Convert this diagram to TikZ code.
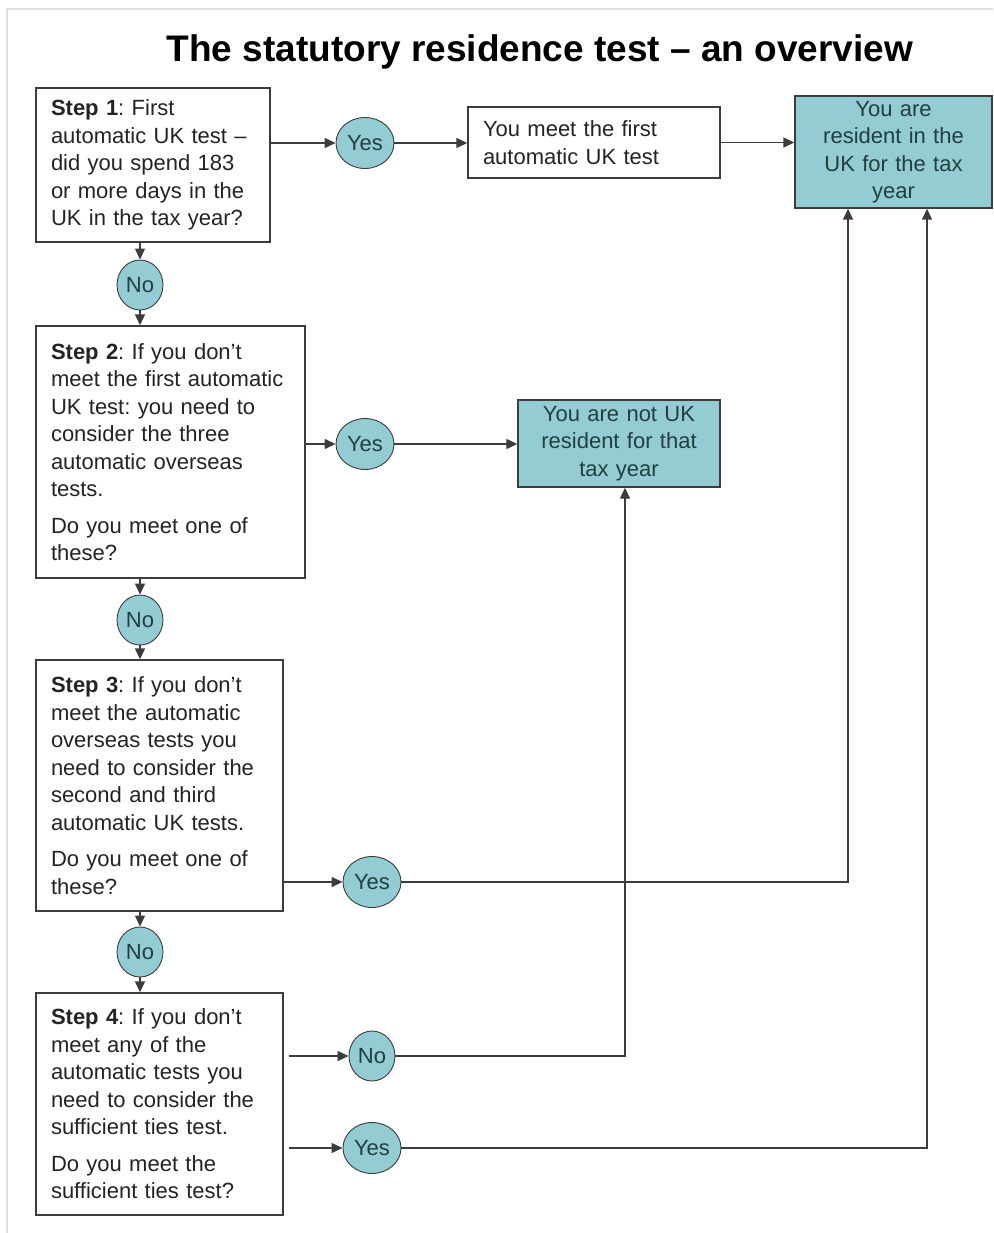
\documentclass[tikz,border=0pt]{standalone}
\usepackage{fontspec}
\setmainfont{Liberation Sans}
\frenchspacing
\usetikzlibrary{arrows.meta,shapes.geometric}
\definecolor{tealfill}{RGB}{147,205,211}
\definecolor{boxline}{RGB}{60,60,60}
\definecolor{boxtext}{RGB}{35,35,35}
\definecolor{tealtext}{RGB}{35,62,64}
\begin{document}
\begin{tikzpicture}[x=1pt,y=-1pt,
  every node/.style={font=\fontsize{22}{27.5}\selectfont},
  stepbox/.style={draw=boxline,line width=1.4pt,text=boxtext,align=left,inner xsep=15pt,inner ysep=0pt},
  endbox/.style={draw=boxline,line width=1.4pt,fill=tealfill,text=tealtext,align=center,inner sep=0pt},
  answer/.style={ellipse,draw=boxline,line width=0.9pt,fill=tealfill,text=tealtext,inner sep=0pt},
  yesans/.style={answer,minimum width=58pt,minimum height=51pt},
  noans/.style={answer,minimum width=46pt,minimum height=50pt},
  arr/.style={draw=boxline,line width=1.4pt,-{Triangle[length=11pt,width=10pt]}}]
\useasboundingbox (0,0) rectangle (993,1233);
% faint frame of the page
\draw[gray!25,line width=1.5pt] (7,1233) -- (7,9) -- (993,9);
\node[font=\bfseries\fontsize{37}{40}\selectfont,anchor=base] (title) at (540,62) {The statutory residence test -- an overview};
% step 1
\node[stepbox,text width=204pt,minimum height=154pt] (step1) at (153,165) {\textbf{Step 1}: First\\automatic UK test --\\did you spend 183\\or more days in the\\UK in the tax year?};
\node[yesans] (yes1) at (365,143) {Yes};
\node[stepbox,text width=222pt,minimum height=71pt] (meet) at (594,142.5) {You meet the first\\automatic UK test};
\node[endbox,text width=197pt,minimum height=112pt] (resident) at (893.5,152) {You are\\resident in the\\UK for the tax\\year};
\node[noans] (no1) at (140,285) {No};
% step 2
\node[stepbox,text width=239pt,minimum height=252pt] (step2) at (170.5,452) {\textbf{Step 2}: If you don't\\meet the first automatic\\UK test: you need to\\consider the three\\automatic overseas\\tests.\\[9pt]Do you meet one of\\these?};
\node[yesans] (yes2) at (365,444) {Yes};
\node[endbox,text width=202pt,minimum height=87pt] (notres) at (619,443.5) {You are not UK\\resident for that\\tax year};
\node[noans] (no2) at (140,620) {No};
% step 3
\node[stepbox,text width=217pt,minimum height=251pt] (step3) at (159.5,785.5) {\textbf{Step 3}: If you don't\\meet the automatic\\overseas tests you\\need to consider the\\second and third\\automatic UK tests.\\[9pt]Do you meet one of\\these?};
\node[yesans] (yes3) at (372,882) {Yes};
\node[noans] (no3) at (140,952) {No};
% step 4
\node[stepbox,text width=217pt,minimum height=222pt] (step4) at (159.5,1104) {\textbf{Step 4}: If you don't\\meet any of the\\automatic tests you\\need to consider the\\sufficient ties test.\\[9pt]Do you meet the\\sufficient ties test?};
\node[noans] (no4) at (372,1056) {No};
\node[yesans] (yes4) at (372,1148) {Yes};
% connectors
\draw[arr] (step1.east |- yes1) -- (yes1);
\draw[arr] (yes1) -- (meet.west |- yes1);
\draw[arr] (meet) -- (resident.west |- meet);
\draw[arr] (step1.south -| no1) -- (no1);
\draw[arr] (no1) -- (step2.north -| no1);
\draw[arr] (step2.east |- yes2) -- (yes2);
\draw[arr] (yes2) -- (notres.west |- yes2);
\draw[arr] (step2.south -| no2) -- (no2);
\draw[arr] (no2) -- (step3.north -| no2);
\draw[arr] (step3.east |- yes3) -- (yes3);
\draw[arr] (yes3) -| ([xshift=-45.5pt]resident.south);
\draw[arr] (step3.south -| no3) -- (no3);
\draw[arr] (no3) -- (step4.north -| no3);
\draw[arr] ([xshift=5pt]step4.east |- no4) -- (no4);
\draw[arr] (no4) -| ([xshift=6pt]notres.south);
\draw[arr] ([xshift=5pt]step4.east |- yes4) -- (yes4);
\draw[arr] (yes4) -| ([xshift=33.5pt]resident.south);
\end{tikzpicture}
\end{document}
